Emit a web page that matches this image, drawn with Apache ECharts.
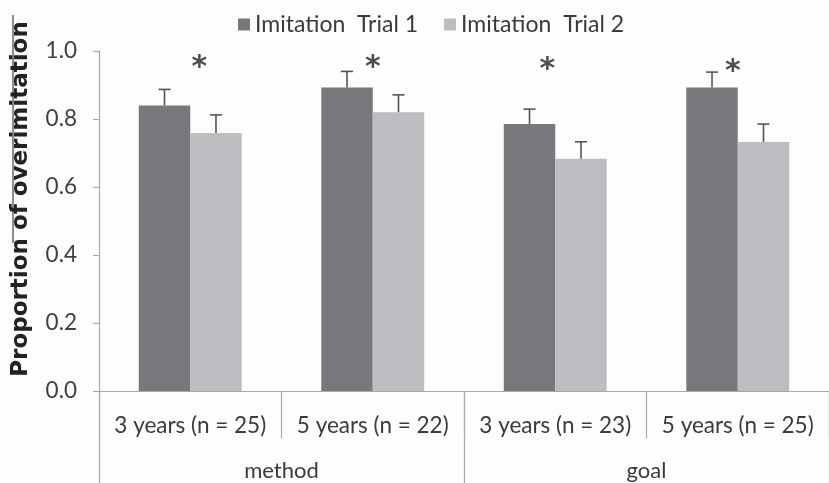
<!DOCTYPE html>
<html>
<head>
<meta charset="utf-8">
<script src="https://cdn.jsdelivr.net/npm/echarts@6/dist/echarts.min.js"></script>
<style>
html,body{margin:0;padding:0;background:#fdfdfd;}
#chart{width:829px;height:483px;}
</style>
</head>
<body>
<div id="chart"></div>
<script>
var categories = ['3 years (n = 25)', '5 years (n = 22)', '3 years (n = 23)', '5 years (n = 25)'];
var groups = ['method', 'goal'];
var seriesNames = ['Imitation  Trial 1', 'Imitation  Trial 2'];
var trial1 = [0.84, 0.893, 0.785, 0.893];
var trial2 = [0.759, 0.82, 0.683, 0.732];
var trial1Err = [0.047, 0.047, 0.044, 0.045];
var trial2Err = [0.053, 0.051, 0.05, 0.053];
var starY = [0.968, 0.968, 0.962, 0.956];
var starShift = [9, 0, -8, -5];

var DARK = '#77787b', LIGHT = '#bcbdc0';
var FONT = 'Lato, "Open Sans", sans-serif';

function errSeries(vals, errs, sign) {
  return {
    type: 'custom',
    xAxisIndex: 0,
    z: 5,
    silent: true,
    data: vals.map(function (v, i) { return [i, v, v + errs[i]]; }),
    renderItem: function (params, api) {
      var band = api.size([1, 0])[0];
      var off = sign * band * 0.141;
      var p0 = api.coord([api.value(0), api.value(1)]);
      var p1 = api.coord([api.value(0), api.value(2)]);
      var x = p0[0] + off;
      var style = { stroke: '#555', lineWidth: 1.6 };
      return {
        type: 'group',
        children: [
          { type: 'line', shape: { x1: x, y1: p0[1], x2: x, y2: p1[1] }, style: style },
          { type: 'line', shape: { x1: x - 6, y1: p1[1], x2: x + 6, y2: p1[1] }, style: style }
        ]
      };
    }
  };
}

var chart = echarts.init(document.getElementById('chart'));
chart.setOption({
  backgroundColor: '#fdfdfd',
  animation: false,
  legend: {
    top: 8,
    left: 233,
    itemWidth: 12,
    itemHeight: 12,
    itemGap: 26,
    icon: 'rect',
    textStyle: { fontFamily: FONT, fontSize: 23, color: '#3a3a3a' },
    data: seriesNames
  },
  graphic: [
    { type: 'line', shape: { x1: 13, y1: 15, x2: 13, y2: 243 }, style: { stroke: '#444', lineWidth: 1.2 } }
  ],
  grid: { left: 99, top: 51, width: 744, height: 340 },
  xAxis: [
    {
      type: 'category',
      data: categories,
      axisLine: { lineStyle: { color: '#a9a9a9', width: 1.2 } },
      axisTick: { show: true, alignWithLabel: false, interval: 0, length: 47, lineStyle: { color: '#a9a9a9', width: 1.2 } },
      axisLabel: { interval: 0, margin: 23, fontFamily: FONT, fontSize: 22.5, color: '#3a3a3a' }
    },
    {
      type: 'category',
      position: 'bottom',
      data: groups,
      axisLine: { show: false },
      axisTick: { show: true, alignWithLabel: false, interval: 0, length: 95, lineStyle: { color: '#a9a9a9', width: 1.2 } },
      axisLabel: { interval: 0, margin: 69, fontFamily: FONT, fontSize: 22, color: '#3a3a3a' }
    }
  ],
  yAxis: {
    type: 'value',
    min: 0,
    max: 1,
    interval: 0.2,
    name: 'Proportion of overimitation',
    nameLocation: 'middle',
    nameGap: 66,
    nameTextStyle: { fontFamily: '"DejaVu Sans", sans-serif', fontSize: 23, fontWeight: 'bold', color: '#222', padding: [0, 0, 0, 44] },
    axisLine: { show: true, lineStyle: { color: '#a9a9a9', width: 1.2 } },
    axisTick: { show: true, length: 6, lineStyle: { color: '#a9a9a9', width: 1.2 } },
    splitLine: { show: false },
    axisLabel: {
      margin: 22,
      fontFamily: FONT, fontSize: 22.5, color: '#404040',
      formatter: function (v) { return v.toFixed(1); }
    }
  },
  series: [
    {
      name: seriesNames[0], type: 'bar', data: trial1, barWidth: '28.2%', barGap: '0%',
      itemStyle: { color: DARK }
    },
    {
      name: seriesNames[1], type: 'bar', data: trial2, barWidth: '28.2%', barGap: '0%',
      itemStyle: { color: LIGHT }
    },
    errSeries(trial1, trial1Err, -1),
    errSeries(trial2, trial2Err, 1),
    {
      type: 'scatter',
      symbol: 'circle',
      symbolSize: 1,
      itemStyle: { color: 'rgba(0,0,0,0)' },
      silent: true,
      z: 6,
      data: starY.map(function (v, i) {
        return { value: [i, v], label: { offset: [starShift[i], 6] } };
      }),
      label: {
        show: true,
        position: 'inside',
        formatter: '*',
        fontFamily: '"DejaVu Sans", sans-serif', fontSize: 30, fontWeight: 'bold', color: '#222'
      }
    }
  ]
});
</script>
</body>
</html>
